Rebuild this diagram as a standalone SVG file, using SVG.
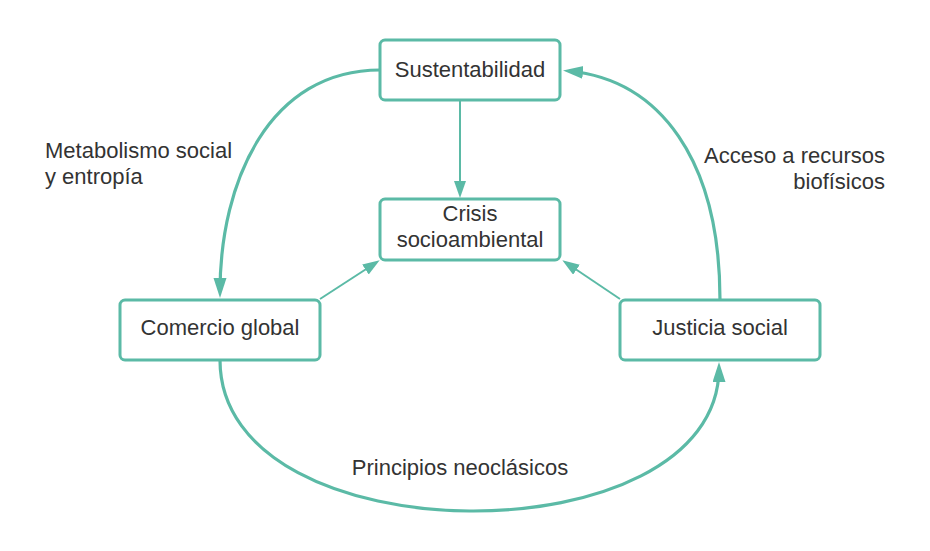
<svg xmlns="http://www.w3.org/2000/svg" width="930" height="551" viewBox="0 0 930 551">
  <style>
    .box { fill: #ffffff; stroke: #5bbaa6; stroke-width: 3; }
    .lbl { font-family: "Liberation Sans", Arial, sans-serif; font-size: 22px; fill: #333333; }
    .thick { fill: none; stroke: #5bbaa6; stroke-width: 3.2; }
    .thin { fill: none; stroke: #5bbaa6; stroke-width: 2; }
  </style>
  <defs>
    <marker id="ahThick" markerUnits="userSpaceOnUse" markerWidth="22" markerHeight="14" refX="14" refY="6.5" orient="auto">
      <path d="M0,0 L20,6.5 L0,13 z" fill="#5bbaa6"/>
    </marker>
    <marker id="ahThin" markerUnits="userSpaceOnUse" markerWidth="18" markerHeight="13" refX="12" refY="6" orient="auto">
      <path d="M0,0 L17,6 L0,12 z" fill="#5bbaa6"/>
    </marker>
  </defs>
  <rect width="930" height="551" fill="#ffffff"/>

  <g id="connectors">
    <path class="thin" d="M460,101 L460,193" marker-end="url(#ahThin)"/>
    <path class="thin" d="M320,299 L375.5,263" marker-end="url(#ahThin)"/>
    <path class="thin" d="M620,299 L566.5,263" marker-end="url(#ahThin)"/>
    <path class="thick" d="M380,70 C270,70 220,180 220,292" marker-end="url(#ahThick)"/>
    <path class="thick" d="M720,300 C720,160 660,80 569,71" marker-end="url(#ahThick)"/>
    <path class="thick" d="M220,360 C220,560 719,560 719,368" marker-end="url(#ahThick)"/>
  </g>

  <g id="edge-labels">
    <text class="lbl" x="45" y="157.5">Metabolismo social</text>
    <text class="lbl" x="45" y="183.5">y entropía</text>
    <text class="lbl" x="885" y="163" text-anchor="end">Acceso a recursos</text>
    <text class="lbl" x="885" y="189" text-anchor="end">biofísicos</text>
    <text class="lbl" x="460" y="475" text-anchor="middle">Principios neoclásicos</text>
  </g>

  <g id="node-sustentabilidad">
    <rect class="box" x="380" y="40" width="180" height="60" rx="5"/>
    <text class="lbl" x="470" y="76.5" text-anchor="middle">Sustentabilidad</text>
  </g>
  <g id="node-crisis">
    <rect class="box" x="380" y="199" width="180" height="61" rx="5"/>
    <text class="lbl" x="470" y="221" text-anchor="middle">Crisis</text>
    <text class="lbl" x="470" y="247" text-anchor="middle">socioambiental</text>
  </g>
  <g id="node-comercio">
    <rect class="box" x="120" y="300" width="200" height="60" rx="5"/>
    <text class="lbl" x="220" y="335" text-anchor="middle">Comercio global</text>
  </g>
  <g id="node-justicia">
    <rect class="box" x="620" y="300" width="200" height="60" rx="5"/>
    <text class="lbl" x="720" y="335" text-anchor="middle">Justicia social</text>
  </g>
</svg>
